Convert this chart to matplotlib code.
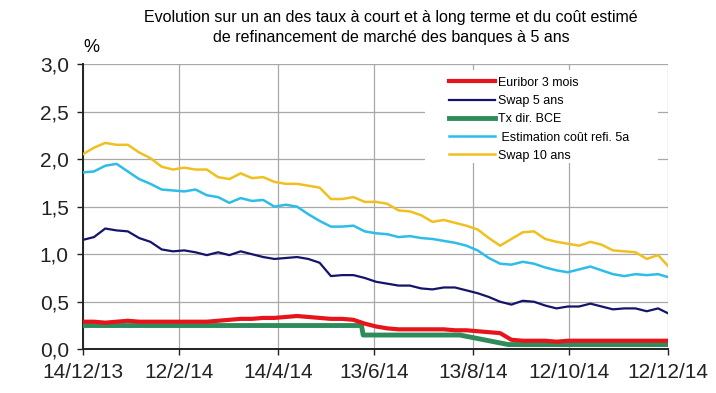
#!/usr/bin/env python
# encoding=utf-8

import numpy as np
import pandas as pd
import matplotlib
matplotlib.use('Agg')
import matplotlib.pyplot as plt
from matplotlib.patches import Rectangle

plt.rcParams['font.family'] = ['Liberation Sans Narrow', 'Liberation Sans', 'DejaVu Sans']

TITLE = u"Evolution sur un an des taux à court et à long terme et du coût estimé\nde refinancement de marché des banques à 5 ans"

# weekly observations, 14/12/13 .. 12/12/14
weeks = list(pd.date_range('2013-12-14', periods=52, freq='7D')) + [pd.Timestamp('2014-12-12')]

swap10 = [2.05, 2.12, 2.17, 2.15, 2.15, 2.07, 2.01, 1.92, 1.89, 1.91,
          1.89, 1.89, 1.81, 1.79, 1.85, 1.80, 1.81, 1.76, 1.74, 1.74,
          1.72, 1.70, 1.58, 1.58, 1.60, 1.55, 1.55, 1.53, 1.46, 1.45,
          1.41, 1.34, 1.36, 1.33, 1.30, 1.26, 1.17, 1.09, 1.16, 1.23,
          1.24, 1.16, 1.13, 1.11, 1.09, 1.13, 1.10, 1.04, 1.03, 1.02,
          0.95, 0.99, 0.88]

refi5a = [1.86, 1.87, 1.93, 1.95, 1.87, 1.79, 1.74, 1.68, 1.67, 1.66,
          1.68, 1.62, 1.60, 1.54, 1.59, 1.56, 1.57, 1.50, 1.52, 1.50,
          1.42, 1.35, 1.29, 1.29, 1.30, 1.24, 1.22, 1.21, 1.18, 1.19,
          1.17, 1.16, 1.14, 1.12, 1.09, 1.04, 0.96, 0.90, 0.89, 0.92,
          0.90, 0.86, 0.83, 0.81, 0.84, 0.87, 0.83, 0.79, 0.77, 0.79,
          0.78, 0.79, 0.76]

swap5 = [1.15, 1.18, 1.27, 1.25, 1.24, 1.17, 1.13, 1.05, 1.03, 1.04,
         1.02, 0.99, 1.02, 0.99, 1.03, 1.00, 0.97, 0.95, 0.96, 0.97,
         0.95, 0.91, 0.77, 0.78, 0.78, 0.75, 0.71, 0.69, 0.67, 0.67,
         0.64, 0.63, 0.65, 0.65, 0.62, 0.59, 0.55, 0.50, 0.47, 0.51,
         0.50, 0.46, 0.43, 0.45, 0.45, 0.48, 0.45, 0.42, 0.43, 0.43,
         0.40, 0.43, 0.38]

euribor3m = [0.29, 0.29, 0.28, 0.29, 0.30, 0.29, 0.29, 0.29, 0.29, 0.29,
             0.29, 0.29, 0.30, 0.31, 0.32, 0.32, 0.33, 0.33, 0.34, 0.35,
             0.34, 0.33, 0.32, 0.32, 0.31, 0.27, 0.24, 0.22, 0.21, 0.21,
             0.21, 0.21, 0.21, 0.20, 0.20, 0.19, 0.18, 0.17, 0.10, 0.09,
             0.09, 0.09, 0.08, 0.09, 0.09, 0.09, 0.09, 0.09, 0.09, 0.09,
             0.09, 0.09, 0.09]

bce_dates = pd.to_datetime(['2013-12-14', '2014-06-05', '2014-06-06',
                            '2014-08-05', '2014-09-04', '2014-12-12'])
bce_rate = [0.25, 0.25, 0.15, 0.15, 0.05, 0.05]

tick_dates = pd.to_datetime(['2013-12-14', '2014-02-12', '2014-04-14', '2014-06-13',
                             '2014-08-13', '2014-10-12', '2014-12-12'])
tick_labels = ['14/12/13', '12/2/14', '14/4/14', '13/6/14', '13/8/14', '12/10/14', '12/12/14']

fig = plt.figure(figsize=(7.16, 3.93), dpi=100)
ax = fig.add_axes([0.1155, 0.1112, 0.8171, 0.7260])

ax.plot(weeks, euribor3m, color='#e8141b', lw=3.0, label='Euribor 3 mois', zorder=4)
ax.plot(weeks, swap5, color='#14146b', lw=1.6, label='Swap 5 ans', zorder=5)
ax.plot(bce_dates, bce_rate, color='#2e8b5a', lw=3.5, label='Tx dir. BCE', zorder=3)
ax.plot(weeks, refi5a, color='#2ebde8', lw=1.8, label=u' Estimation coût refi. 5a', zorder=5)
ax.plot(weeks, swap10, color='#f0c020', lw=1.8, label='Swap 10 ans', zorder=5)

ax.set_xlim(tick_dates[0], tick_dates[-1])
ax.set_ylim(0, 3)
ax.set_xticks(tick_dates)
ax.set_xticklabels(tick_labels)
yt = np.arange(0, 3.01, 0.5)
ax.set_yticks(yt)
ax.set_yticklabels([('%.1f' % v).replace('.', ',') for v in yt])
ax.tick_params(labelsize=15, length=4, width=1, colors='#222222', pad=6)

ax.grid(True, color='#a8a8a8', lw=0.9)
ax.set_axisbelow(True)
for side in ['top', 'right']:
    ax.spines[side].set_visible(False)
for side in ['left', 'bottom']:
    ax.spines[side].set_color('#222222')
    ax.spines[side].set_linewidth(1.4)

# white patch behind the legend, hides the grid there
ax.add_patch(Rectangle((0.585, 0.653), 0.398, 0.326, transform=ax.transAxes,
                       facecolor='white', edgecolor='none', zorder=2))

leg = ax.legend(loc='upper left', bbox_to_anchor=(0.626, 0.955), borderaxespad=0,
                borderpad=0, frameon=False, fontsize=9, handlelength=3.7,
                handletextpad=0.25, labelspacing=0.5)
leg.set_zorder(6)

fig.text(0.546, 0.975, TITLE, ha='center', va='top', fontsize=11.5, linespacing=1.4)
fig.text(0.117, 0.858, '%', ha='left', va='bottom', fontsize=13)

fig.savefig('out.png', dpi=100)
